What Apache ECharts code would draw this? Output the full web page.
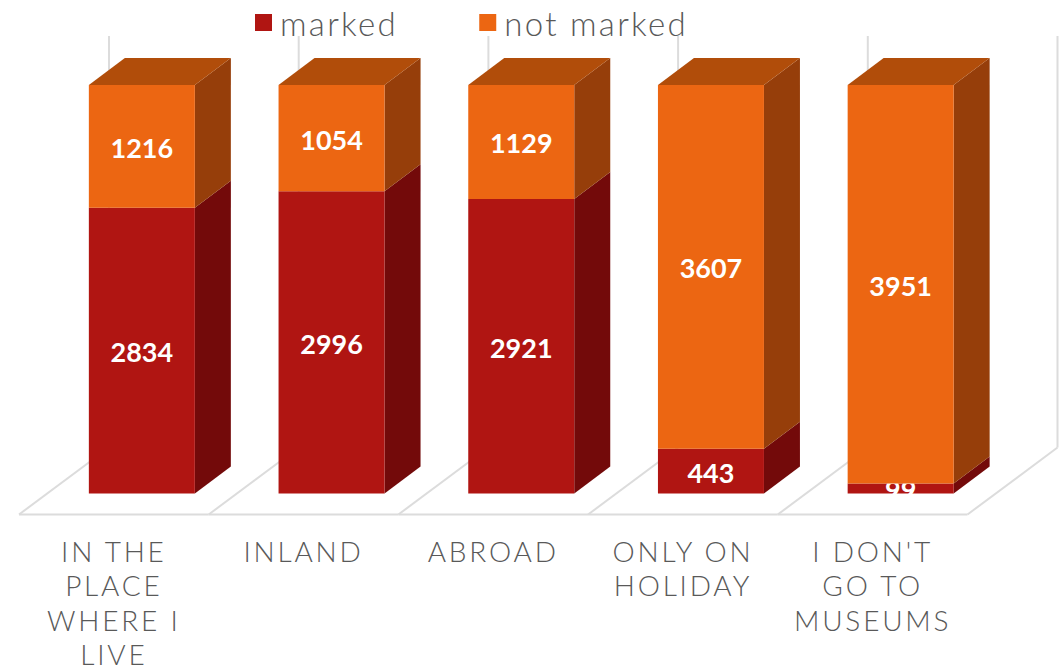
<!DOCTYPE html>
<html><head><meta charset="utf-8">
<style>
html,body{margin:0;padding:0;background:#fff}
#chart{width:1064px;height:670px}
#chart text{letter-spacing:2.8px}
#chart text[style*="bold"]{letter-spacing:0}
#chart text[style*="33px"]{letter-spacing:2.3px}
</style>
<script src="https://cdn.jsdelivr.net/npm/echarts@6/dist/echarts.min.js"></script>
</head><body><div id="chart"></div>
<script>
var categories = ["IN THE\nPLACE\nWHERE I\nLIVE", "INLAND", "ABROAD", "ONLY ON\nHOLIDAY", "I DON'T\nGO TO\nMUSEUMS"];
var marked = [2834, 2996, 2921, 443, 99];
var notMarked = [1216, 1054, 1129, 3607, 3951];
var seriesNames = ["marked", "not marked"];

var FLOOR_DX = 90, FLOOR_DY = 67;   // full floor depth in px
var BAR_DX = 36, BAR_DY = 27;       // bar depth in px
var BAR_OFF_X = 28, BAR_OFF_Y = 21; // bar placement on the floor
var BAR_W = 106;
var WALL_TOP = 4080;
var LINE = '#DCDCDC', LINE_W = 2;
var TEXT = '#595959';

var C = {
  red:    {front:'#B01512', side:'#730A0A', top:'#8E1010'},
  orange: {front:'#EC6612', side:'#963E0A', top:'#B14D0A'}
};

function poly(pts, fill){
  return {type:'polygon', shape:{points:pts}, style:{fill:fill}};
}
function seg(x1,y1,x2,y2){
  return {type:'line', shape:{x1:x1,y1:y1,x2:x2,y2:y2}, style:{stroke:LINE, lineWidth:LINE_W, fill:null}};
}

function renderFloor(params, api){
  var i = api.value(0);
  var band = api.size([1,0])[0];
  var c = api.coord([i,0]);
  var top = api.coord([i,WALL_TOP])[1] - FLOOR_DY;
  var l = c[0]-band/2, r = c[0]+band/2, y = c[1];
  var kids = [
    seg(l,y,r,y),
    seg(l,y,l+FLOOR_DX,y-FLOOR_DY),
    seg(l+FLOOR_DX,y-FLOOR_DY,l+FLOOR_DX,top)
  ];
  if(i === categories.length-1){
    kids.push(seg(r,y,r+FLOOR_DX,y-FLOOR_DY));
    kids.push(seg(r+FLOOR_DX,y-FLOOR_DY,r+FLOOR_DX,top));
  }
  return {type:'group', children:kids};
}

function makeBar(col, drawTop){
  return function(params, api){
    var i = api.value(0), lo = api.value(1), hi = api.value(2), v = api.value(3);
    var a = api.coord([i,lo]), b = api.coord([i,hi]);
    var x0 = a[0]-BAR_W/2+BAR_OFF_X, x1 = x0+BAR_W;
    var y0 = a[1]-BAR_OFF_Y, y1 = b[1]-BAR_OFF_Y;
    var kids = [
      poly([[x1,y0],[x1+BAR_DX,y0-BAR_DY],[x1+BAR_DX,y1-BAR_DY],[x1,y1]], col.side),
      poly([[x0,y0],[x1,y0],[x1,y1],[x0,y1]], col.front)
    ];
    if(drawTop) kids.push(poly([[x0,y1],[x0+BAR_DX,y1-BAR_DY],[x1+BAR_DX,y1-BAR_DY],[x1,y1]], col.top));
    kids.push({
      type:'text',
      z2:10,
      style:{text:String(v), x:(x0+x1)/2, y:(y0+y1)/2+1, align:'center', verticalAlign:'middle',
             fill:'#fff', font:'bold 27px Lato'},
      clipPath:{type:'rect', shape:{x:x0, y:y1-40, width:BAR_W, height:y0-y1+41}}
    });
    return {type:'group', children:kids};
  };
}

var floorData = categories.map(function(_,i){return [i];});
var markedData = marked.map(function(v,i){return [i,0,v,v];});
var notMarkedData = notMarked.map(function(v,i){return [i,marked[i],marked[i]+v,v];});

var chart = echarts.init(document.getElementById('chart'), null, {renderer:'svg'});
chart.setOption({
  animation:false,
  backgroundColor:'#fff',
  grid:{left:19, width:948.5, bottom:155.5, top:103, containLabel:false, outerBoundsMode:'none'},
  legend:{
    left:255, top:6, padding:0, icon:'rect', itemWidth:17, itemHeight:17, itemGap:95,
    data:seriesNames,
    textStyle:{color:TEXT, fontFamily:'Lato', fontWeight:300, fontSize:33, padding:[0,0,0,3]}
  },
  xAxis:{
    type:'category', data:categories,
    axisLine:{show:false}, axisTick:{show:false}, splitLine:{show:false},
    axisLabel:{interval:0, color:TEXT, fontFamily:'Lato', fontWeight:300, fontSize:28, lineHeight:34.5, margin:19, hideOverlap:false}
  },
  yAxis:{type:'value', min:0, max:WALL_TOP, show:false},
  series:[
    {type:'custom', name:'floor', clip:false, silent:true, z:1, renderItem:renderFloor, data:floorData, encode:{x:0}},
    {type:'custom', name:seriesNames[0], clip:false, z:2, itemStyle:{color:C.red.front}, renderItem:makeBar(C.red,false), data:markedData, encode:{x:0,y:[1,2]}},
    {type:'custom', name:seriesNames[1], clip:false, z:3, itemStyle:{color:C.orange.front}, renderItem:makeBar(C.orange,true), data:notMarkedData, encode:{x:0,y:[1,2]}}
  ]
});
</script></body></html>
